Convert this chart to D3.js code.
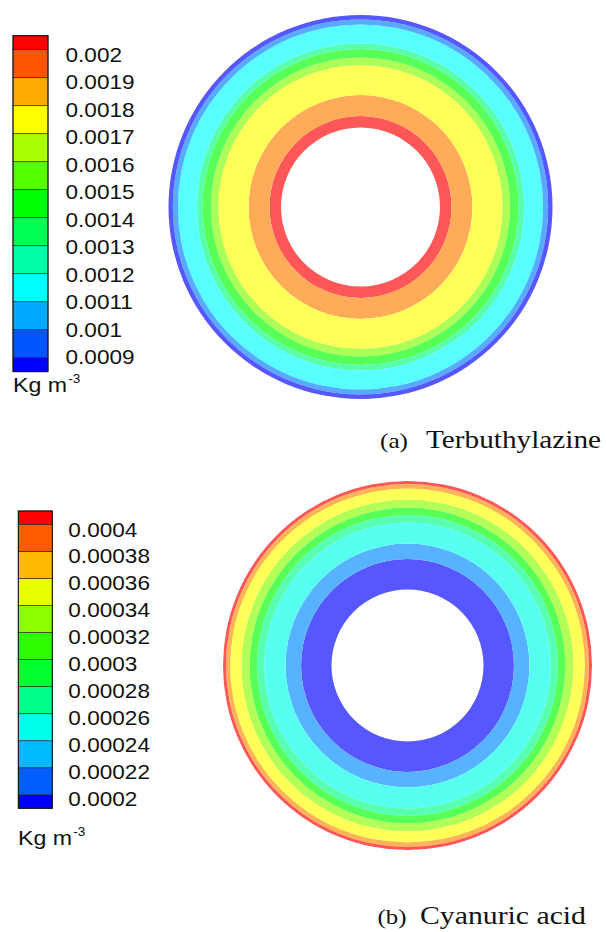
<!DOCTYPE html>
<html>
<head>
<meta charset="utf-8">
<script src="https://cdn.jsdelivr.net/npm/d3@7"></script>
<style>
  html, body { margin: 0; padding: 0; background: #fff; }
  svg { display: block; }
</style>
</head>
<body>
<script>
// Contour levels on each colour bar (kg m^-3), top to bottom
const levelsA = [0.002, 0.0019, 0.0018, 0.0017, 0.0016, 0.0015, 0.0014, 0.0013, 0.0012, 0.0011, 0.001, 0.0009];
const labelsA = ["0.002", "0.0019", "0.0018", "0.0017", "0.0016", "0.0015", "0.0014", "0.0013", "0.0012", "0.0011", "0.001", "0.0009"];
const levelsB = [0.0004, 0.00038, 0.00036, 0.00034, 0.00032, 0.0003, 0.00028, 0.00026, 0.00024, 0.00022, 0.0002];
const labelsB = ["0.0004", "0.00038", "0.00036", "0.00034", "0.00032", "0.0003", "0.00028", "0.00026", "0.00024", "0.00022", "0.0002"];

// Annular concentration bands across the pipe section, inner wall outwards.
// Edges are r/R (first entry = inner wall), values are the band concentration.
const ringEdgesA = [0.414, 0.474, 0.583, 0.740, 0.779, 0.823, 0.852, 0.951, 0.977, 1];
const ringValuesA = [0.00205, 0.0019, 0.00175, 0.0016, 0.00145, 0.0013, 0.00115, 0.001, 0.00085];
const ringEdgesB = [0.412, 0.577, 0.661, 0.775, 0.816, 0.856, 0.900, 0.959, 0.984, 1];
const ringValuesB = [0.00019, 0.00022, 0.00025, 0.00027, 0.0003, 0.00033, 0.000355, 0.00038, 0.00041];

const unitMain = "Kg m";
const unitSup = "-3";
const captionTagA = "(a)", captionNameA = "Terbuthylazine";
const captionTagB = "(b)", captionNameB = "Cyanuric acid";

const W = 606, H = 932;
const STRETCH = 1.13;  // wide sans lettering on the colour bars

const svg = d3.select("body").append("svg")
  .attr("width", W).attr("height", H)
  .attr("viewBox", `0 0 ${W} ${H}`);

function panel(cfg) {
  const asc = cfg.levels.slice().sort(d3.ascending);
  const n = asc.length;
  const step = (asc[n - 1] - asc[0]) / (n - 1);
  const lo = asc[0] - step / 2, hi = asc[n - 1] + step / 2;

  // rainbow: blue (low) -> red (high)
  const hue = d3.scaleLinear().domain([lo, hi]).range([240, 0]).clamp(true);
  const barColor = v => d3.hsl(hue(v), 1, 0.5).formatHex();
  const ringColor = v => d3.hsl(hue(v), 1, 0.67).formatHex();

  // ---- colour bar ----
  const y = d3.scaleLinear().domain([lo, hi]).range([cfg.bar.bottom, cfg.bar.top]);
  const bands = d3.range(n + 1).map(k => ({
    mid: lo + k * step,
    lower: k === 0 ? lo : asc[k - 1],
    upper: k === n ? hi : asc[k]
  }));
  const gBar = svg.append("g");
  gBar.selectAll("rect.band").data(bands).join("rect")
    .attr("class", "band")
    .attr("x", cfg.bar.x)
    .attr("width", cfg.bar.w)
    .attr("y", d => y(d.upper))
    .attr("height", d => y(d.lower) - y(d.upper))
    .attr("fill", d => barColor(d.mid))
    .attr("stroke", "#2a2a2a")
    .attr("stroke-width", 0.7);
  gBar.append("rect")
    .attr("x", cfg.bar.x).attr("y", cfg.bar.top)
    .attr("width", cfg.bar.w).attr("height", cfg.bar.bottom - cfg.bar.top)
    .attr("fill", "none").attr("stroke", "#111").attr("stroke-width", 1);

  const ly = d3.scaleLinear().domain([asc[0], asc[n - 1]]).range([cfg.labelBottom, cfg.labelTop]);
  gBar.selectAll("text.lab").data(cfg.levels.map((v, i) => ({ v, t: cfg.labels[i] }))).join("text")
    .attr("class", "lab")
    .attr("transform", d => `translate(${cfg.labelX},${ly(d.v)}) scale(${STRETCH},1)`)
    .attr("dominant-baseline", "central")
    .attr("font-family", "'Liberation Sans', Arial, sans-serif")
    .attr("font-size", 20)
    .attr("fill", "#111")
    .text(d => d.t);

  const unit = gBar.append("text")
    .attr("transform", `translate(${cfg.unitX},${cfg.unitY}) scale(${STRETCH},1)`)
    .attr("font-family", "'Liberation Sans', Arial, sans-serif")
    .attr("font-size", 20.5)
    .attr("fill", "#111");
  unit.append("tspan").text(unitMain);
  unit.append("tspan").attr("font-size", 12).attr("dy", -9).attr("dx", 1).text(unitSup);

  // ---- pipe cross-section ----
  const r = d3.scaleLinear().domain([0, 1]).range([0, cfg.ring.R]);
  const arc = d3.arc().startAngle(0).endAngle(2 * Math.PI);
  const rings = cfg.values.map((v, i) => ({ v, r0: cfg.edges[i], r1: cfg.edges[i + 1] }));
  svg.append("g")
    .attr("transform", `translate(${cfg.ring.cx},${cfg.ring.cy})`)
    .selectAll("path").data(rings).join("path")
    .attr("d", d => arc({ innerRadius: r(d.r0), outerRadius: r(d.r1) }))
    .attr("fill", d => ringColor(d.v));

  // ---- caption ----
  const cap = svg.append("g").attr("font-family", "'Liberation Serif', 'Times New Roman', serif").attr("fill", "#111");
  cap.append("text")
    .attr("x", cfg.caption.tagX).attr("y", cfg.caption.y)
    .attr("font-size", 22)
    .attr("textLength", cfg.caption.tagLen).attr("lengthAdjust", "spacingAndGlyphs")
    .text(cfg.caption.tag);
  cap.append("text")
    .attr("x", cfg.caption.nameX).attr("y", cfg.caption.y)
    .attr("font-size", 25.5)
    .attr("textLength", cfg.caption.nameLen).attr("lengthAdjust", "spacingAndGlyphs")
    .text(cfg.caption.name);
}

panel({
  levels: levelsA, labels: labelsA, edges: ringEdgesA, values: ringValuesA,
  bar: { x: 13, w: 35, top: 35.7, bottom: 371.7 },
  labelX: 65.5, labelTop: 55, labelBottom: 357.5,
  unitX: 13, unitY: 392,
  ring: { cx: 360.5, cy: 207, R: 192 },
  caption: { tag: captionTagA, name: captionNameA, tagX: 380, nameX: 426, y: 448, tagLen: 28, nameLen: 175 }
});

panel({
  levels: levelsB, labels: labelsB, edges: ringEdgesB, values: ringValuesB,
  bar: { x: 18.3, w: 34, top: 511, bottom: 808.3 },
  labelX: 68.3, labelTop: 530, labelBottom: 799,
  unitX: 18, unitY: 845,
  ring: { cx: 407.5, cy: 665.5, R: 184.5 },
  caption: { tag: captionTagB, name: captionNameB, tagX: 377.5, nameX: 420, y: 924, tagLen: 29, nameLen: 166 }
});
</script>
</body>
</html>
